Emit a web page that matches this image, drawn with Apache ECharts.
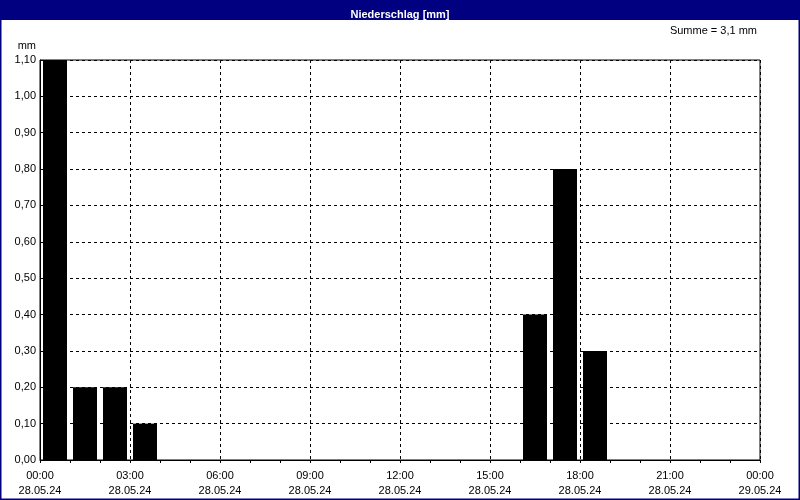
<!DOCTYPE html>
<html><head><meta charset="utf-8">
<script src="https://cdn.jsdelivr.net/npm/echarts@6/dist/echarts.min.js"></script>
<style>html,body{margin:0;padding:0;background:#fff}#c{width:800px;height:500px}</style>
</head><body><div id="c"></div>
<script>
// hourly precipitation on 28.05.24 (mm), hour 00..23
var hourlyValues = [1.1,0.2,0.2,0.1,0,0,0,0,0,0,0,0,0,0,0,0,0.4,0.8,0.3,0,0,0,0,0];
var tickTimes = ["00:00","03:00","06:00","09:00","12:00","15:00","18:00","21:00","00:00"];
var tickDates = ["28.05.24","28.05.24","28.05.24","28.05.24","28.05.24","28.05.24","28.05.24","28.05.24","29.05.24"];
var titleText = "Niederschlag [mm]";
var unit = "mm";

var barData = [];
hourlyValues.forEach(function(v,i){ if(v>0) barData.push([i+0.5, v]); });
var sum = hourlyValues.reduce(function(a,b){return a+b;},0);
var sumText = "Summe = " + sum.toFixed(1).replace('.',',') + " " + unit;

var font = '"Liberation Sans", Arial, sans-serif';
var chart = echarts.init(document.getElementById('c'), null, {renderer:'canvas'});
chart.setOption({
  animation:false,
  backgroundColor:'#fff',
  title:{text:titleText,left:'center',top:4,textStyle:{color:'#fff',fontSize:11,fontWeight:'bold',fontFamily:font}},
  graphic:[
    {type:'rect',z:-1,shape:{x:0,y:0,width:800,height:20},style:{fill:'#000080'}},
    {type:'rect',z:-1,shape:{x:0.5,y:0.5,width:799,height:499},style:{fill:null,stroke:'#000080',lineWidth:2}},
    {type:'text',right:43,top:25,style:{text:sumText,fill:'#000',font:'11px '+font}}
  ],
  grid:{left:40,right:40,top:60,bottom:40,show:true,borderColor:'#000',borderWidth:1,backgroundColor:'#fff'},
  xAxis:{type:'value',min:0,max:24,interval:3,
    axisLine:{show:true,lineStyle:{color:'#000'}},
    axisTick:{show:true,length:3,lineStyle:{color:'#000'}},
    minorTick:{show:true,splitNumber:3,length:3,lineStyle:{color:'#000'}},
    splitLine:{show:true,lineStyle:{color:'#000',type:[3,3],width:1}},
    axisLabel:{color:'#000',fontSize:11,fontFamily:font,lineHeight:15,margin:8,
      formatter:function(v){var i=Math.round(v/3);return tickTimes[i]+'\n'+tickDates[i];}}
  },
  yAxis:{type:'value',min:0,max:1.1,interval:0.1,name:unit,
    nameLocation:'end',nameGap:9,
    nameTextStyle:{color:'#000',fontSize:11,fontFamily:font,align:'right',padding:[0,4,0,0]},
    axisLine:{show:true,lineStyle:{color:'#000'}},
    axisTick:{show:false},
    splitLine:{show:true,lineStyle:{color:'#000',type:[3,3],width:1}},
    axisLabel:{color:'#000',fontSize:11,fontFamily:font,margin:4,
      formatter:function(v){return v.toFixed(2).replace('.',',');}}
  },
  series:[{type:'bar',data:barData,barWidth:24,itemStyle:{color:'#000'},z:3}]
});
</script></body></html>
